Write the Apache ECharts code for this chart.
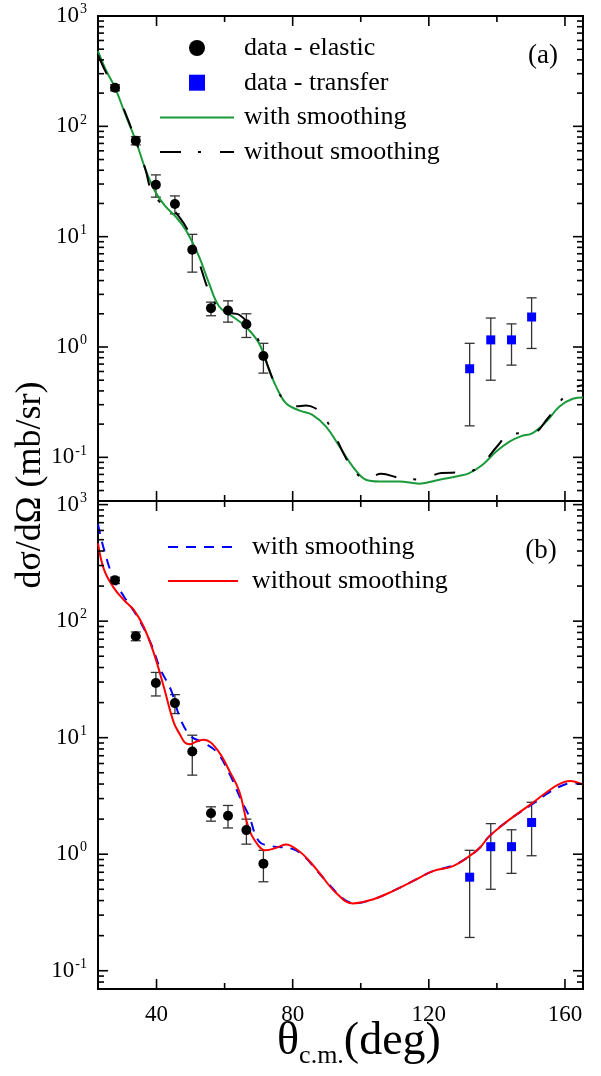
<!DOCTYPE html>
<html>
<head>
<meta charset="utf-8">
<script src="https://cdn.jsdelivr.net/npm/echarts@6/dist/echarts.min.js"></script>
<style>
  html, body { margin: 0; padding: 0; background: #fff; }
  #chart { width: 601px; height: 1076px; }
</style>
</head>
<body>
<div id="chart"></div>
<script>
// ---- axis ranges and tick labels ----
const X_MIN = 22.8, X_MAX = 165.3;
const Y_RANGE_A = [0.0402, 1000];
const Y_RANGE_B = [0.0697, 1074];
const xTickValues = [40, 60, 80, 100, 120, 140, 160];
const xTickLabels = [40, 80, 120, 160];
const yDecades = [-2, -1, 0, 1, 2, 3];

// ---- measured cross sections (mb/sr) ----
const elasticAngle = [27.8, 33.9, 39.8, 45.4, 50.5, 56.0, 61.0, 66.4, 71.4];
const elasticValue = [224, 74.2, 29.5, 19.8, 7.6, 2.25, 2.14, 1.61, 0.83];
const elasticLow   = [210, 67.9, 22.8, 16.1, 4.77, 1.92, 1.68, 1.22, 0.58];
const elasticHigh  = [238, 80.7, 36.3, 23.4, 10.5, 2.55, 2.62, 2.0, 1.08];

const transferAngle = [132.0, 138.2, 144.3, 150.2];
const transferValue = [0.635, 1.16, 1.16, 1.87];
const transferLow   = [0.193, 0.50, 0.685, 0.97];
const transferHigh  = [1.08, 1.83, 1.62, 2.79];

// ---- panel (a) calculations ----
const aSmoothAngle = [22.8, 25.1, 27.8, 30.8, 33.9, 36.8, 39.8, 42.5, 45.6, 48.6, 52.5, 55.4, 58.4, 62.3, 66.2, 70.1, 73.1, 75.1, 78.0, 81.9, 85.8, 89.8, 93.7, 97.6, 101.5, 105.4, 111.3, 117.2, 123.1, 129.0, 131.9, 135.8, 139.8, 143.7, 147.0, 150.5, 154.5, 158.4, 162.3, 165.3];
const aSmoothValue = [480, 324, 224, 129, 74, 40.3, 25, 19, 15.2, 11.5, 6.6, 3.79, 2.33, 1.89, 1.53, 1.08, 0.62, 0.44, 0.31, 0.266, 0.243, 0.19, 0.126, 0.083, 0.0627, 0.0605, 0.0605, 0.0577, 0.0627, 0.068, 0.072, 0.0858, 0.113, 0.139, 0.155, 0.166, 0.211, 0.289, 0.34, 0.349];

const aPlainAngle = [22.8, 25.1, 27.8, 30.8, 33.9, 36.8, 38.3, 40.7, 43.2, 46.6, 49.6, 51.5, 53.5, 55.4, 58.0, 61.0, 64.3, 68.2, 70.5, 73.1, 75.1, 78.0, 81.0, 83.9, 86.5, 88.8, 91.9, 95.1, 97.6, 101.5, 106.0, 111.5, 117.4, 123.7, 129.1, 132.5, 135.9, 140.1, 144.0, 147.0, 150.5, 154.9, 157.8, 162.2, 165.3];
const aPlainValue = [445, 310, 220, 133, 74, 40, 27, 21, 19.5, 15.2, 10.8, 7.5, 4.7, 3.2, 2.3, 2.05, 1.96, 1.43, 1.05, 0.62, 0.44, 0.31, 0.29, 0.295, 0.28, 0.24, 0.17, 0.106, 0.080, 0.063, 0.071, 0.065, 0.063, 0.072, 0.073, 0.075, 0.088, 0.126, 0.164, 0.165, 0.166, 0.225, 0.30, 0.42, 0.45];

// ---- panel (b) calculations ----
const bSmoothAngle = [22.8, 24.6, 27.5, 30.4, 34.4, 38.3, 41.2, 44.2, 47.1, 50.1, 54.0, 57.9, 61.8, 64.8, 67.2, 70.1, 74.0, 79.9, 83.5, 86.8, 90.5, 94.6, 98.1, 103.5, 109.4, 115.3, 121.2, 127.1, 131.9, 134.9, 137.8, 143.7, 150.5, 154.0, 158.0, 162.0, 165.3];
const bSmoothValue = [680, 408, 226, 163, 109, 64.7, 38.3, 25.8, 14.3, 10.3, 9.0, 7.4, 4.66, 2.94, 2.12, 1.29, 1.17, 1.11, 0.95, 0.74, 0.56, 0.42, 0.38, 0.409, 0.482, 0.587, 0.715, 0.80, 0.96, 1.13, 1.43, 1.98, 2.70, 3.2, 3.75, 4.05, 4.0];

const bPlainAngle = [22.8, 24.6, 27.5, 30.4, 33.3, 36.2, 39.2, 42.1, 45.1, 47.0, 48.3, 49.8, 51.5, 53.9, 57.8, 61.7, 64.3, 67.2, 70.1, 72.1, 75.0, 78.0, 81.9, 84.5, 87.8, 92.7, 97.6, 103.5, 109.4, 115.3, 121.2, 127.1, 131.9, 134.9, 137.8, 143.7, 150.5, 154.0, 158.0, 161.5, 165.3];
const bPlainValue = [466, 275, 192, 152, 125, 90, 53.2, 27.5, 13.4, 10.5, 9.1, 8.8, 9.2, 9.6, 7.9, 4.99, 3.47, 1.63, 1.17, 1.08, 1.13, 1.21, 1.06, 0.90, 0.693, 0.467, 0.378, 0.409, 0.482, 0.587, 0.715, 0.789, 0.962, 1.13, 1.43, 1.98, 2.76, 3.3, 3.95, 4.25, 3.95];

const SERIF = '"Liberation Serif", "Times New Roman", serif';
const SQUARE_ICON = 'path://M0 0H10V10H0Z';
const CIRCLE_ICON = 'path://M5 0A5 5 0 1 1 5 10A5 5 0 1 1 5 0Z';

const pairs = (xs, ys) => xs.map((x, i) => [x, ys[i]]);

// inward ticks on all four sides of a panel, placed through the axes
function frameTicks(gi, yRange) {
  const data = [];
  yDecades.forEach(p => {
    const base = Math.pow(10, p);
    if (base >= yRange[0] && base <= yRange[1]) data.push([X_MIN, base, 0]);
    for (let m = 2; m <= 9; m++) {
      const v = m * base;
      if (v > yRange[0] && v < yRange[1]) data.push([X_MIN, v, 1]);
    }
  });
  xTickValues.forEach(v => data.push([v, yRange[0], xTickLabels.includes(v) ? 2 : 3]));
  return {
    type: 'custom', xAxisIndex: gi, yAxisIndex: gi, silent: true, z: 10,
    encode: { x: 0, y: 1 },
    data: data,
    renderItem: (params, api) => {
      const kind = api.value(2);
      const style = { stroke: '#000', lineWidth: 1.6 };
      if (kind <= 1) {
        const len = kind === 0 ? 10 : 6;
        const v = api.value(1);
        const l = api.coord([X_MIN, v]);
        const r = api.coord([X_MAX, v]);
        return { type: 'group', children: [
          { type: 'line', shape: { x1: l[0], y1: l[1], x2: l[0] + len, y2: l[1] }, style: style },
          { type: 'line', shape: { x1: r[0], y1: r[1], x2: r[0] - len, y2: r[1] }, style: style }
        ]};
      }
      const len = kind === 2 ? 10 : 6;
      const v = api.value(0);
      const b = api.coord([v, yRange[0]]);
      const t = api.coord([v, yRange[1]]);
      return { type: 'group', children: [
        { type: 'line', shape: { x1: b[0], y1: b[1], x2: b[0], y2: b[1] - len }, style: style },
        { type: 'line', shape: { x1: t[0], y1: t[1], x2: t[0], y2: t[1] + len }, style: style }
      ]};
    }
  };
}

function errorBars(gi, xs, lo, hi, name) {
  return {
    type: 'custom', name: name, xAxisIndex: gi, yAxisIndex: gi, silent: true, z: 3,
    encode: { x: 0, y: [1, 2] },
    data: xs.map((x, i) => [x, lo[i], hi[i]]),
    renderItem: (params, api) => {
      const x = api.value(0);
      const a = api.coord([x, api.value(1)]);
      const b = api.coord([x, api.value(2)]);
      const w = 5;
      const style = { stroke: '#333', lineWidth: 1.3 };
      return { type: 'group', children: [
        { type: 'line', shape: { x1: a[0], y1: a[1], x2: b[0], y2: b[1] }, style: style },
        { type: 'line', shape: { x1: a[0] - w, y1: a[1], x2: a[0] + w, y2: a[1] }, style: style },
        { type: 'line', shape: { x1: b[0] - w, y1: b[1], x2: b[0] + w, y2: b[1] }, style: style }
      ]};
    }
  };
}

function yAxisFor(gi, range) {
  return {
    gridIndex: gi, type: 'log', logBase: 10, min: range[0], max: range[1],
    axisLine: { show: false }, axisTick: { show: false }, splitLine: { show: false },
    axisLabel: {
      margin: 11, color: '#000',
      formatter: v => {
        const lg = Math.log10(v);
        const p = Math.round(lg);
        if (Math.abs(lg - p) > 1e-6 || p < -1 || p > 3) return '';
        return '{b|10}{s|' + p + '}';
      },
      rich: {
        b: { fontFamily: SERIF, fontSize: 23, lineHeight: 23, verticalAlign: 'bottom', padding: [4, 0, 0, 0], color: '#000' },
        s: { fontFamily: SERIF, fontSize: 14, lineHeight: 14, verticalAlign: 'bottom', padding: [0, 0, 11, 1], color: '#000' }
      }
    }
  };
}

function xAxisFor(gi, showLabels) {
  return {
    gridIndex: gi, type: 'value', min: X_MIN, max: X_MAX, splitNumber: 7,
    axisLine: { show: false }, axisTick: { show: false }, splitLine: { show: false },
    axisLabel: {
      show: showLabels, margin: 14, color: '#000', fontFamily: SERIF, fontSize: 23,
      formatter: v => {
        const r = Math.round(v);
        return (Math.abs(v - r) < 1e-6 && xTickLabels.includes(r)) ? String(r) : '';
      }
    }
  };
}

const lineItem = name => ({ name: name, itemStyle: { opacity: 0 } });

const chart = echarts.init(document.getElementById('chart'), null, { renderer: 'canvas' });

chart.setOption({
  animation: false,
  backgroundColor: '#fff',
  grid: [
    { left: 98, top: 16, width: 485, height: 485, show: true, borderColor: '#000', borderWidth: 2, backgroundColor: 'transparent' },
    { left: 98, top: 501, width: 485, height: 488, show: true, borderColor: '#000', borderWidth: 2, backgroundColor: 'transparent' }
  ],
  xAxis: [xAxisFor(0, false), xAxisFor(1, true)],
  yAxis: [yAxisFor(0, Y_RANGE_A), yAxisFor(1, Y_RANGE_B)],
  legend: [
    {
      orient: 'vertical', left: 159, top: 35, padding: 0,
      itemWidth: 74, itemHeight: 16, itemGap: 8.7,
      data: [
        { name: 'data - elastic', icon: CIRCLE_ICON },
        { name: 'data - transfer', icon: SQUARE_ICON },
        lineItem('with smoothing'),
        lineItem('without smoothing')
      ],
      textStyle: { fontFamily: SERIF, fontSize: 26, color: '#000', padding: [0, 0, 0, 5] },
      selectedMode: false
    },
    {
      orient: 'vertical', left: 167, top: 534, padding: 0,
      itemWidth: 70, itemHeight: 16, itemGap: 8,
      data: [lineItem('with smoothing (b)'), lineItem('without smoothing (b)')],
      formatter: name => name.replace(' (b)', ''),
      textStyle: { fontFamily: SERIF, fontSize: 26, color: '#000', padding: [0, 0, 0, 9] },
      selectedMode: false
    }
  ],
  graphic: [
    { type: 'text', x: 543, y: 56, style: { text: '(a)', font: '27px ' + SERIF, fill: '#000', textAlign: 'center', textVerticalAlign: 'middle' } },
    { type: 'text', x: 541, y: 551, style: { text: '(b)', font: '27px ' + SERIF, fill: '#000', textAlign: 'center', textVerticalAlign: 'middle' } },
    { type: 'text', x: 31, y: 485, rotation: Math.PI / 2,
      style: { text: 'dσ/dΩ (mb/sr)', font: '36px ' + SERIF, fill: '#000', textAlign: 'center', textVerticalAlign: 'middle' } },
    { type: 'text', x: 359, y: 1046,
      style: {
        text: '{t|θ}{s|c.m.}{t|(deg)}', textAlign: 'center', textVerticalAlign: 'middle', fill: '#000',
        rich: {
          t: { fontFamily: SERIF, fontSize: 46, lineHeight: 46, verticalAlign: 'bottom', padding: [0, 0, 4, 0], fill: '#000' },
          s: { fontFamily: SERIF, fontSize: 26, lineHeight: 26, verticalAlign: 'bottom', fill: '#000' }
        }
      }
    }
  ],
  series: [
    frameTicks(0, Y_RANGE_A),
    frameTicks(1, Y_RANGE_B),

    // panel (a)
    { type: 'line', name: 'with smoothing', xAxisIndex: 0, yAxisIndex: 0, data: pairs(aSmoothAngle, aSmoothValue),
      symbol: 'none', smooth: 0.4, z: 4, lineStyle: { color: '#1a9a3a', width: 2 }, itemStyle: { color: '#1a9a3a' } },
    { type: 'line', name: 'without smoothing', xAxisIndex: 0, yAxisIndex: 0, data: pairs(aPlainAngle, aPlainValue),
      symbol: 'none', smooth: 0.4, z: 4, lineStyle: { color: '#000', width: 2, type: [21, 17, 3, 19] }, itemStyle: { color: '#000' } },
    errorBars(0, elasticAngle, elasticLow, elasticHigh, 'elastic errors a'),
    errorBars(0, transferAngle, transferLow, transferHigh, 'transfer errors a'),
    { type: 'scatter', name: 'data - elastic', xAxisIndex: 0, yAxisIndex: 0, data: pairs(elasticAngle, elasticValue),
      symbol: 'circle', symbolSize: 10, z: 5, itemStyle: { color: '#000', opacity: 1 } },
    { type: 'scatter', name: 'data - transfer', xAxisIndex: 0, yAxisIndex: 0, data: pairs(transferAngle, transferValue),
      symbol: 'rect', symbolSize: 9, z: 5, itemStyle: { color: '#0000ff', opacity: 1 } },

    // panel (b)
    { type: 'line', name: 'with smoothing (b)', xAxisIndex: 1, yAxisIndex: 1, data: pairs(bSmoothAngle, bSmoothValue),
      symbol: 'none', smooth: 0.4, z: 4, lineStyle: { color: '#0000ff', width: 2, type: [10, 8] }, itemStyle: { color: '#0000ff' } },
    { type: 'line', name: 'without smoothing (b)', xAxisIndex: 1, yAxisIndex: 1, data: pairs(bPlainAngle, bPlainValue),
      symbol: 'none', smooth: 0.4, z: 4, lineStyle: { color: '#ff0000', width: 2 }, itemStyle: { color: '#ff0000' } },
    errorBars(1, elasticAngle, elasticLow, elasticHigh, 'elastic errors b'),
    errorBars(1, transferAngle, transferLow, transferHigh, 'transfer errors b'),
    { type: 'scatter', name: 'elastic b', xAxisIndex: 1, yAxisIndex: 1, data: pairs(elasticAngle, elasticValue),
      symbol: 'circle', symbolSize: 10, z: 5, itemStyle: { color: '#000', opacity: 1 } },
    { type: 'scatter', name: 'transfer b', xAxisIndex: 1, yAxisIndex: 1, data: pairs(transferAngle, transferValue),
      symbol: 'rect', symbolSize: 9, z: 5, itemStyle: { color: '#0000ff', opacity: 1 } }
  ]
});
</script>
</body>
</html>
